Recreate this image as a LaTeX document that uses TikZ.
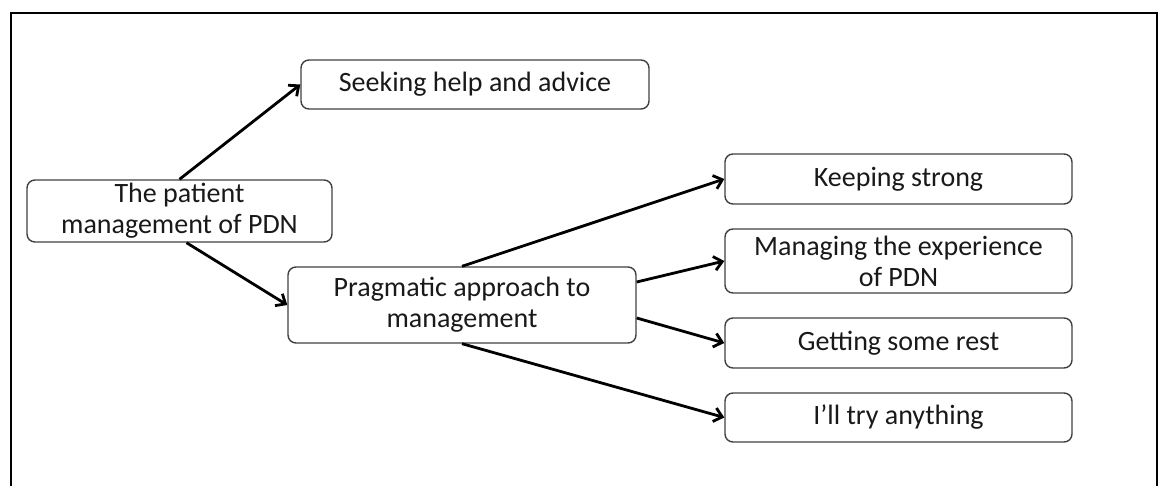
\documentclass[tikz,border=0pt]{standalone}
\usepackage{fontspec}
\setmainfont{Carlito}
\usetikzlibrary{arrows.meta}
\begin{document}
\begin{tikzpicture}[x=1pt,y=-1pt,
  box/.style={draw=black!75,line width=1.4pt,rounded corners=8pt,inner sep=0pt,
    align=center,text=black!90,font=\fontsize{28}{31}\selectfont},
  conn/.style={line width=2.8pt,-{Straight Barb[length=8pt,width=14pt]}}]
\useasboundingbox (0,0) rectangle (1159,485);
\draw[line width=2pt] (11,500) -- (11,13) -- (1157,13) -- (1157,500);
\node[box,minimum width=305pt,minimum height=62pt] (patient) at (179.5,211) {The patient\\management of PDN};
\node[box,minimum width=348pt,minimum height=49pt] (seek) at (475,84.5) {Seeking help and advice};
\node[box,minimum width=348pt,minimum height=76pt] (prag) at (462,305) {Pragmatic approach to\\management};
\node[box,minimum width=347pt,minimum height=50pt] (keep) at (898.5,179) {Keeping strong};
\node[box,minimum width=347pt,minimum height=64pt] (manage) at (898.5,261) {Managing the experience\\of PDN};
\node[box,minimum width=347pt,minimum height=50pt] (rest) at (898.5,343) {Getting some rest};
\node[box,minimum width=347pt,minimum height=49pt] (try) at (898.5,417.5) {I’ll try anything};
\draw[conn] (patient.north) -- (seek.west);
\draw[conn] ([xshift=7pt]patient.south) -- (prag.west);
\draw[conn] (prag.north) -- (keep.west);
\draw[conn] ([yshift=23pt]prag.east) -- (manage.west);
\draw[conn] ([yshift=-13pt]prag.east) -- (rest.west);
\draw[conn] (prag.south) -- (try.west);
\end{tikzpicture}
\end{document}
